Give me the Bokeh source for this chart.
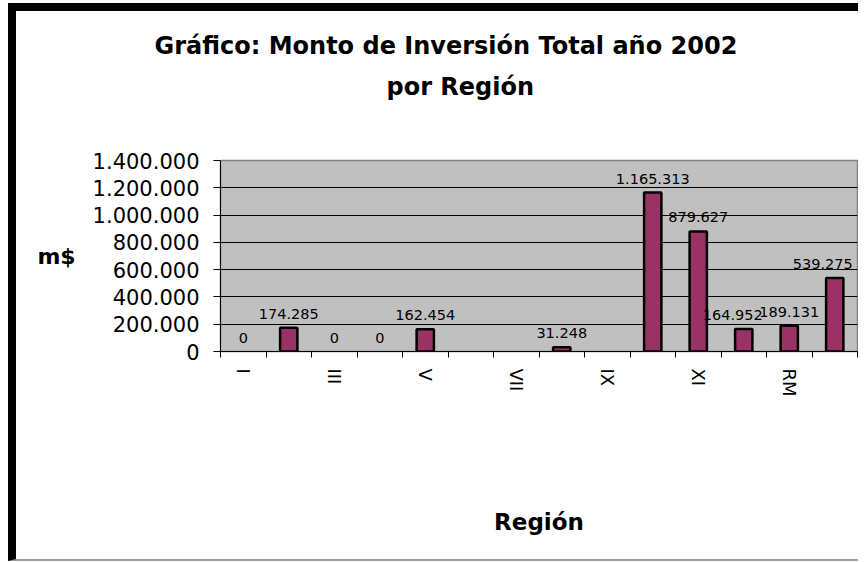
import numpy as np
from bokeh.plotting import figure
from bokeh.models import ColumnDataSource, FixedTicker, Range1d, Title, LinearAxis
from bokeh.core.properties import value
from bokeh.embed import file_html
from bokeh.resources import INLINE

# ---- data ----
regions = ["I", "II", "III", "IV", "V", "VI", "VII", "VIII", "IX", "X", "XI", "XII", "RM", "Interregional"]
montos = [0, 174285, 0, 0, 162454, None, None, 31248, None, 1165313, 879627, 164952, 189131, 539275]
y_ticks = [0, 200000, 400000, 600000, 800000, 1000000, 1200000, 1400000]
shown_labels = ["I", "III", "V", "VII", "IX", "XI", "RM"]

title_lines = ["Gráfico: Monto de Inversión Total año 2002", "por Región"]
y_title = "m$"
x_title = "Región"

# label nudges (pixels), kept apart from data
label_dx = {"XII": -11, "Interregional": -12}

FONT = "DejaVu Sans"
BAR = "#993366"


def fmt(v):
    return f"{v:,}".replace(",", ".")


lab_idx = [i for i, v in enumerate(montos) if v is not None]
bar_idx = [i for i in lab_idx if montos[i] > 0]

bar_src = ColumnDataSource(dict(
    x=[i + 0.5 for i in bar_idx],
    top=[montos[i] for i in bar_idx],
))
lab_src = ColumnDataSource(dict(
    x=[i + 0.5 for i in lab_idx],
    y=[montos[i] for i in lab_idx],
    text=[fmt(montos[i]) for i in lab_idx],
    dx=[label_dx.get(regions[i], 0) for i in lab_idx],
))

W, H = 850, 558
p = figure(width=W, height=H, title=None,
           x_range=Range1d(0, len(regions)), y_range=Range1d(0, y_ticks[-1]),
           output_backend="svg", toolbar_location=None,
           min_border_left=204, min_border_right=9,
           min_border_top=149, min_border_bottom=218)
p.styles = {"border-left": "8px solid black", "border-top": "8px solid black",
            "border-bottom": "2px solid #a0a0a0",
            "margin-left": "8px", "margin-top": "3px"}

p.background_fill_color = "#C0C0C0"
p.border_fill_color = "white"
p.outline_line_color = "#808080"
p.outline_line_width = 1.5

# invisible spacer between the plot area and the two title lines
spacer = LinearAxis(ticker=FixedTicker(ticks=[0]), axis_line_color=None,
                    major_tick_line_color="white", minor_tick_line_color=None,
                    major_tick_out=55, major_tick_in=0, major_label_standoff=0,
                    major_label_overrides={0: ""}, major_label_text_font_size="1px")
p.add_layout(spacer, "above")

# titles (the one added first sits nearest the plot area)
p.add_layout(Title(text=title_lines[1], align="left", offset=166, standoff=10,
                   text_font=FONT, text_font_size="24px", text_font_style="bold",
                   text_color="black"), "above")
p.add_layout(Title(text=title_lines[0], align="left", offset=-66, standoff=11,
                   text_font=FONT, text_font_size="24px", text_font_style="bold",
                   text_color="black"), "above")

# y axis
p.yaxis.ticker = FixedTicker(ticks=y_ticks)
p.yaxis.major_label_overrides = {t: fmt(t) for t in y_ticks}
p.yaxis.major_tick_out = 7
p.yaxis.major_tick_in = 0
p.yaxis.minor_tick_line_color = None
p.yaxis.axis_line_color = "black"
p.yaxis.major_tick_line_color = "black"
p.yaxis.major_label_text_font = FONT
p.yaxis.major_label_text_font_size = "21px"
p.yaxis.major_label_text_color = "black"
p.yaxis.major_label_standoff = 14
p.yaxis.axis_label = y_title
p.yaxis.axis_label_orientation = "horizontal"
p.yaxis.axis_label_standoff = 14
p.yaxis.axis_label_text_font = FONT
p.yaxis.axis_label_text_font_size = "22px"
p.yaxis.axis_label_text_font_style = "bold"
p.yaxis.axis_label_text_color = "black"

# x axis (the spacer is also in p.above, so address the bottom one directly)
xax = p.below[0]
centers = {r: regions.index(r) + 0.5 for r in shown_labels}
xax.ticker = FixedTicker(ticks=list(centers.values()),
                         minor_ticks=list(range(len(regions) + 1)))
xax.major_label_overrides = {v: k for k, v in centers.items()}
xax.major_tick_out = 0
xax.major_tick_in = 0
xax.minor_tick_out = 6
xax.minor_tick_in = 0
xax.minor_tick_line_color = "black"
xax.axis_line_color = "black"
xax.major_label_orientation = "vertical"
xax.major_label_text_font = FONT
xax.major_label_text_font_size = "18px"
xax.major_label_text_color = "black"
xax.major_label_standoff = 11
xax.axis_label = x_title
xax.axis_label_standoff = 109
xax.axis_label_text_font = FONT
xax.axis_label_text_font_size = "23px"
xax.axis_label_text_font_style = "bold"
xax.axis_label_text_color = "black"

p.xgrid.grid_line_color = None
p.ygrid.ticker = FixedTicker(ticks=y_ticks)
p.ygrid.grid_line_color = "black"
p.ygrid.grid_line_width = 1

p.vbar(x="x", top="top", width=0.38, source=bar_src,
       fill_color=BAR, line_color="black", line_width=2.5)
p.text(x="x", y="y", text="text", x_offset="dx", y_offset=-14, source=lab_src,
       text_align="center", text_baseline="alphabetic",
       text_font=value(FONT), text_font_size="14.5px", text_color="black")

open("out.html", "w").write(file_html(p, INLINE))
